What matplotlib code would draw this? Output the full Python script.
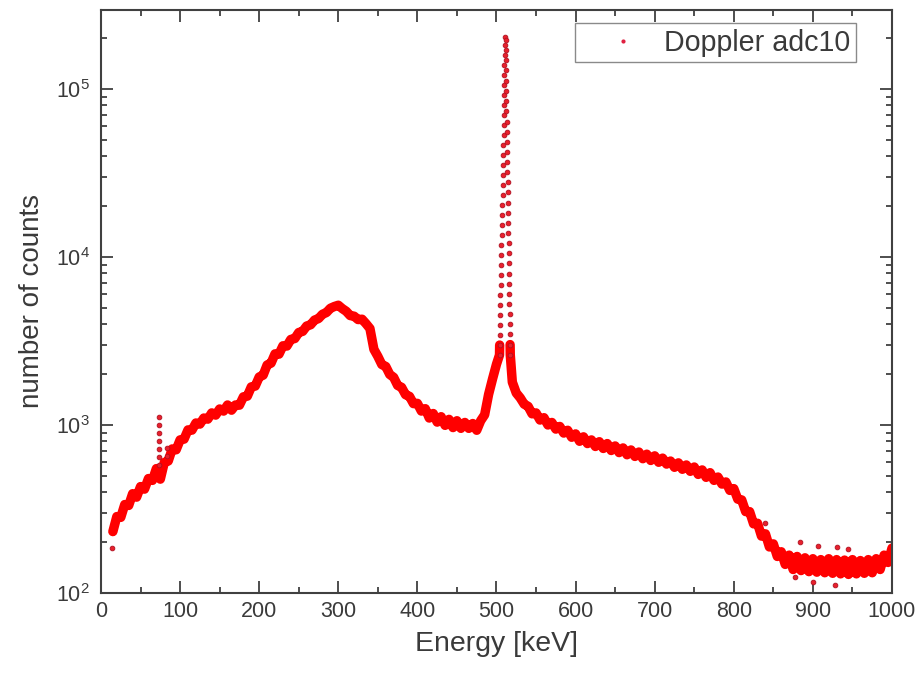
import math
import matplotlib
matplotlib.use("Agg")
import matplotlib.pyplot as plt
from matplotlib.lines import Line2D
from matplotlib.ticker import MultipleLocator, LogLocator, FuncFormatter, NullFormatter

plt.rcParams['font.family'] = ['Liberation Sans', 'DejaVu Sans']
plt.rcParams['mathtext.default'] = 'regular'

# Continuum of the spectrum below the annihilation peak (5 keV bins)
energy_low = [15, 20, 25, 30, 35, 40, 45, 50, 55, 60, 65, 70, 75, 80, 85, 90, 95,
              100, 105, 110, 115, 120, 125, 130, 135, 140, 145, 150, 155, 160, 165,
              170, 175, 180, 185, 190, 195, 200, 205, 210, 215, 220, 225, 230, 235,
              240, 245, 250, 255, 260, 265, 270, 275, 280, 285, 290, 295, 300, 305,
              310, 315, 320, 325, 330, 335, 340, 345, 350, 355, 360, 365, 370, 375,
              380, 385, 390, 395, 400, 405, 410, 415, 420, 425, 430, 435, 440, 445,
              450, 455, 460, 465, 470, 475, 480, 485, 490, 495, 500]
counts_low = [232, 285, 282, 336, 332, 390, 372, 430, 415, 480, 468, 550, 476, 598,
              610, 720, 712, 815, 824, 935, 932, 1028, 1012, 1100, 1083, 1180, 1145,
              1245, 1210, 1315, 1225, 1315, 1312, 1470, 1485, 1685, 1705, 1930, 1980,
              2275, 2335, 2650, 2640, 2960, 2950, 3230, 3270, 3550, 3610, 3880, 3950,
              4210, 4300, 4560, 4670, 4950, 5070, 5160, 4930, 4750, 4480, 4440, 4240,
              4260, 4010, 3750, 2820, 2560, 2290, 2230, 2000, 1920, 1720, 1675, 1515,
              1480, 1340, 1345, 1210, 1250, 1100, 1170, 1040, 1120, 995, 1080, 965,
              1060, 955, 1035, 955, 1020, 930, 1060, 1150, 1520, 1880, 2300]

# Continuum above the annihilation peak
energy_high = [520, 525, 530, 535, 540, 545, 550, 555, 560, 565, 570, 575, 580, 585,
               590, 595, 600, 605, 610, 615, 620, 625, 630, 635, 640, 645, 650, 655,
               660, 665, 670, 675, 680, 685, 690, 695, 700, 705, 710, 715, 720, 725,
               730, 735, 740, 745, 750, 755, 760, 765, 770, 775, 780, 785, 790, 795,
               800, 805, 810, 815, 820, 825, 830, 835, 840, 845, 850, 855, 860, 865,
               870, 875, 880, 885, 890, 895, 900, 905, 910, 915, 920, 925, 930, 935,
               940, 945, 950, 955, 960, 965, 970, 975, 980, 985, 990, 995, 1000]
counts_high = [1800, 1550, 1450, 1330, 1290, 1165, 1180, 1070, 1105, 1000, 1035, 945,
               980, 895, 930, 845, 885, 800, 850, 775, 815, 745, 795, 725, 775, 705,
               750, 685, 730, 665, 710, 650, 690, 630, 670, 615, 655, 600, 635, 585,
               610, 560, 595, 545, 578, 530, 562, 508, 540, 488, 520, 468, 490, 445,
               458, 408, 418, 362, 358, 305, 305, 258, 260, 218, 225, 188, 196, 165,
               176, 148, 168, 138, 165, 136, 162, 134, 160, 133, 158, 132, 160, 131,
               158, 130, 157, 129, 158, 130, 156, 131, 158, 132, 160, 138, 168, 152,
               185]

# 511 keV annihilation peak, rising and falling flanks
peak_rise_energy = [503.8, 504.0, 504.2, 504.4, 504.6, 504.8, 505.0, 505.2, 505.4,
                    505.6, 505.9, 506.2, 506.5, 506.8, 507.1, 507.4, 507.7, 508.0,
                    508.2, 508.4, 508.6, 508.8, 509.0, 509.2, 509.4, 509.6, 509.8,
                    509.9, 510.0, 510.1, 510.2, 510.3, 510.4]
peak_rise_counts = [2610, 2990, 3430, 3940, 4520, 5180, 5940, 6810, 7820, 8960, 10300,
                    11800, 13500, 15500, 17800, 20400, 23400, 26800, 30800, 35300,
                    40500, 46400, 53300, 61100, 70000, 80300, 92100, 105600, 121000,
                    139000, 159000, 183000, 204000]
peak_fall_energy = [511.6, 511.7, 511.8, 511.9, 512.0, 512.2, 512.4, 512.6, 512.8,
                    513.0, 513.2, 513.4, 513.6, 513.8, 514.0, 514.2, 514.4, 514.6,
                    514.8, 515.0, 515.2, 515.4, 515.6, 515.8, 516.0, 516.2, 516.4,
                    516.6, 516.8, 517.0, 517.2, 517.4]
peak_fall_counts = [196000, 170000, 148000, 129000, 112000, 97000, 84500, 73500,
                    64000, 55700, 48400, 42100, 36700, 31900, 27800, 24200, 21000,
                    18300, 15900, 13900, 12100, 10500, 9150, 7960, 6930, 6030, 5250,
                    4570, 3980, 3460, 3010, 2620]

# Narrow X-ray line near 73 keV and isolated bins
line_energy = [73, 73, 73, 73, 73, 73, 73, 83, 83]
line_counts = [1115, 1000, 897, 803, 720, 645, 578, 730, 654]
stray_energy = [14, 839, 884, 906, 930, 944, 877, 900, 928]
stray_counts = [185, 261, 201, 190, 188, 183, 124, 116, 112]

red = '#ff0000'
dot_edge = '#b01020'
text_col = '#3a3a3a'
axis_col = '#404040'

fig = plt.figure(figsize=(9.2, 6.77), dpi=100)
ax = fig.add_axes([101 / 920, 1 - 593 / 677, (892 - 101) / 920, (593 - 10) / 677])

# dense bins drawn as a continuous thick trace; the trace runs into the
# foot of the peak on both sides
band = dict(ls='-', color=red, lw=6.8, solid_joinstyle='round',
            solid_capstyle='round')
dots = dict(ls='none', marker='o', color='#e8202c', ms=3.4, mec=dot_edge, mew=0.6)

ax.plot(energy_low + peak_rise_energy[:2], counts_low + peak_rise_counts[:2], **band)
ax.plot(peak_fall_energy[-2:] + energy_high, peak_fall_counts[-2:] + counts_high, **band)
ax.plot(peak_rise_energy, peak_rise_counts, **dots)
ax.plot(peak_fall_energy, peak_fall_counts, **dots)
ax.plot(line_energy, line_counts, **dots)
ax.plot(stray_energy, stray_counts, **dots)

ax.set_yscale('log')
ax.set_xlim(0, 1000)
ax.set_ylim(100, 2.95e5)

ax.xaxis.set_major_locator(MultipleLocator(100))
ax.xaxis.set_minor_locator(MultipleLocator(50))
ax.yaxis.set_major_locator(LogLocator(base=10, numticks=10))
ax.yaxis.set_minor_locator(LogLocator(base=10, subs=range(2, 10), numticks=20))
ax.yaxis.set_major_formatter(FuncFormatter(lambda v, p: r'$10^{%d}$' % round(math.log10(v))))
ax.yaxis.set_minor_formatter(NullFormatter())

ax.tick_params(which='both', direction='in', top=True, right=True,
               color=axis_col, labelcolor=text_col)
ax.tick_params(which='major', length=8.5, width=1.3)
ax.tick_params(which='minor', length=4.5, width=1.3)
ax.tick_params(axis='x', labelsize=15.5, pad=6)
ax.tick_params(axis='y', labelsize=15.5, pad=8)
for s in ax.spines.values():
    s.set_color(axis_col)
    s.set_linewidth(1.5)

ax.set_xlabel('Energy [keV]', fontsize=20.5, color=text_col, labelpad=6)
ax.set_ylabel('number of counts', fontsize=20, color=text_col, labelpad=8)

handle = Line2D([], [], ls='none', marker='o', color='#e02040', ms=3, mew=0)
leg = ax.legend([handle], ['Doppler adc10'], loc='upper right',
                bbox_to_anchor=(856 / 920, 1 - 23 / 677),
                bbox_transform=fig.transFigure, borderaxespad=0,
                fancybox=False, fontsize=20.6, handlelength=2.9,
                handletextpad=0.0, borderpad=0.2, framealpha=1)
leg.get_frame().set_edgecolor('#8a8a8a')
leg.get_frame().set_linewidth(1.0)
for t in leg.get_texts():
    t.set_color(text_col)

fig.savefig('out.png', dpi=100)
